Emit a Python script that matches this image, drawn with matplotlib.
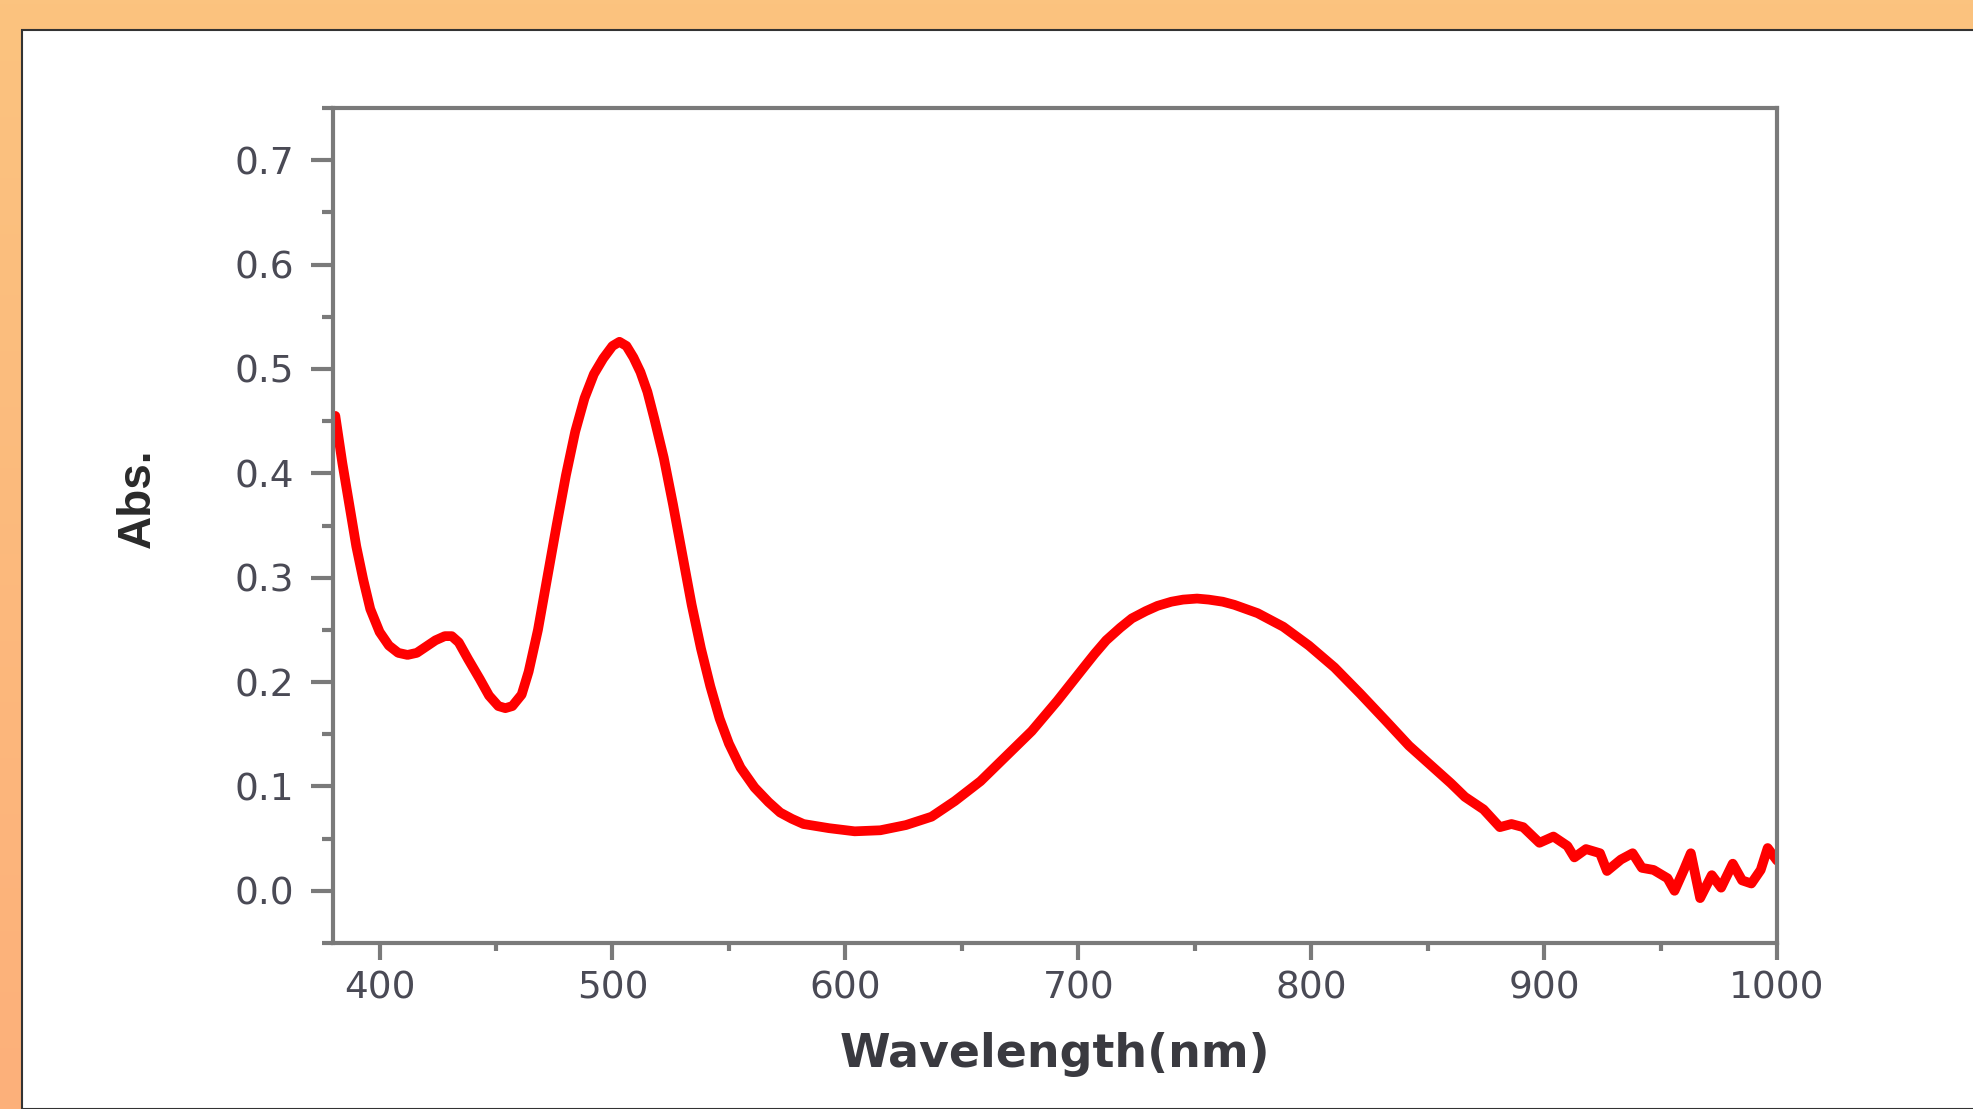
import numpy as np
import matplotlib.pyplot as plt
from matplotlib.patches import Rectangle
from matplotlib.ticker import MultipleLocator

# spectrum
wavelength = [381, 384, 387, 390, 393, 396, 400, 404, 408, 412, 416, 420, 424, 428,
              431, 434, 438, 443, 447, 451, 454, 457, 461, 464, 468, 472, 476, 480,
              484, 488, 492, 496, 500, 503, 506, 509, 512, 515, 518, 522, 526, 530,
              534, 538, 542, 546, 550, 555, 561, 567, 572, 577, 582, 593, 604, 615,
              626, 637, 647, 658, 669, 680, 691, 702, 707, 712, 718, 723, 729, 734,
              740, 745, 751, 756, 762, 767, 772, 777, 788, 799, 810, 821, 832, 842,
              853, 860, 866, 874, 881, 886, 891, 898, 904, 910, 913, 918, 924, 927,
              933, 938, 942, 947, 953, 956, 960, 963, 967, 972, 976, 981, 985, 989,
              993, 996, 1000]
absorbance = [0.455, 0.410, 0.370, 0.330, 0.298, 0.270, 0.248, 0.235, 0.228, 0.226,
              0.228, 0.234, 0.240, 0.244, 0.244, 0.238, 0.222, 0.203, 0.187, 0.177,
              0.175, 0.177, 0.188, 0.210, 0.250, 0.300, 0.350, 0.398, 0.440, 0.472,
              0.495, 0.510, 0.522, 0.526, 0.522, 0.511, 0.497, 0.478, 0.452, 0.415,
              0.370, 0.322, 0.274, 0.232, 0.196, 0.165, 0.141, 0.118, 0.099, 0.085,
              0.075, 0.069, 0.064, 0.060, 0.057, 0.058, 0.063, 0.071, 0.086, 0.105,
              0.129, 0.153, 0.182, 0.213, 0.227, 0.240, 0.252, 0.261, 0.268, 0.273,
              0.277, 0.279, 0.280, 0.279, 0.277, 0.274, 0.270, 0.266, 0.253, 0.235,
              0.214, 0.189, 0.163, 0.139, 0.117, 0.103, 0.090, 0.078, 0.061, 0.064,
              0.061, 0.046, 0.052, 0.043, 0.032, 0.040, 0.036, 0.019, 0.030, 0.036,
              0.022, 0.020, 0.012, 0.000, 0.020, 0.036, -0.007, 0.015, 0.003, 0.026,
              0.010, 0.007, 0.020, 0.041, 0.029]

x_ticks = [400, 500, 600, 700, 800, 900, 1000]
y_ticks = [0.0, 0.1, 0.2, 0.3, 0.4, 0.5, 0.6, 0.7]

W, H = 1973, 1109
fig = plt.figure(figsize=(W / 100, H / 100), dpi=100)

# orange frame with a slight vertical gradient
bg = fig.add_axes([0, 0, 1, 1])
grad = np.linspace(0, 1, 256).reshape(-1, 1)
top = np.array([251, 195, 127]) / 255
bot = np.array([253, 176, 122]) / 255
img = top + grad[..., None] * (bot - top)
bg.imshow(img, aspect='auto', extent=[0, 1, 0, 1])
bg.add_patch(Rectangle((22 / W, 0), 1, 1 - 30 / H, facecolor='white',
                       edgecolor='#333333', linewidth=1.5))
bg.set_xlim(0, 1)
bg.set_ylim(0, 1)
bg.axis('off')

ax = fig.add_axes([333 / W, 1 - 943 / H, (1777 - 333) / W, (943 - 108) / H])
ax.plot(wavelength, absorbance, color='#ff0000', linewidth=7,
        solid_joinstyle='round', solid_capstyle='round')

ax.set_xlim(380, 1000)
ax.set_ylim(-0.05, 0.75)
ax.set_xticks(x_ticks)
ax.set_yticks(y_ticks)
ax.set_yticklabels(['%.1f' % v for v in y_ticks])
ax.xaxis.set_minor_locator(MultipleLocator(50))
ax.yaxis.set_minor_locator(MultipleLocator(0.05))

for s in ax.spines.values():
    s.set_color('#7a7a7a')
    s.set_linewidth(3)

tick_col = '#4a4a55'
ax.tick_params(axis='y', which='major', direction='out', length=16, width=3,
               color='#7a7a7a', pad=12, labelsize=27, labelcolor=tick_col)
ax.tick_params(axis='y', which='minor', direction='out', length=8, width=3,
               color='#7a7a7a')
ax.tick_params(axis='x', which='major', direction='out', length=12, width=3,
               color='#7a7a7a', pad=8, labelsize=27, labelcolor=tick_col)
ax.tick_params(axis='x', which='minor', direction='out', length=6, width=3,
               color='#7a7a7a')
ax.tick_params(top=False, right=False)
for lab in ax.get_xticklabels() + ax.get_yticklabels():
    lab.set_family('DejaVu Sans')

ax.set_xlabel('Wavelength(nm)', fontsize=33, color='#3a3a40', fontweight='bold',
              family='DejaVu Sans', labelpad=18)
fig.text(138 / W, 1 - 498 / H, 'Abs.', rotation=90, fontsize=33, fontweight='bold',
         color='#2a2a2a', family='Liberation Sans', ha='center', va='center')

fig.savefig('out.png', dpi=100)
